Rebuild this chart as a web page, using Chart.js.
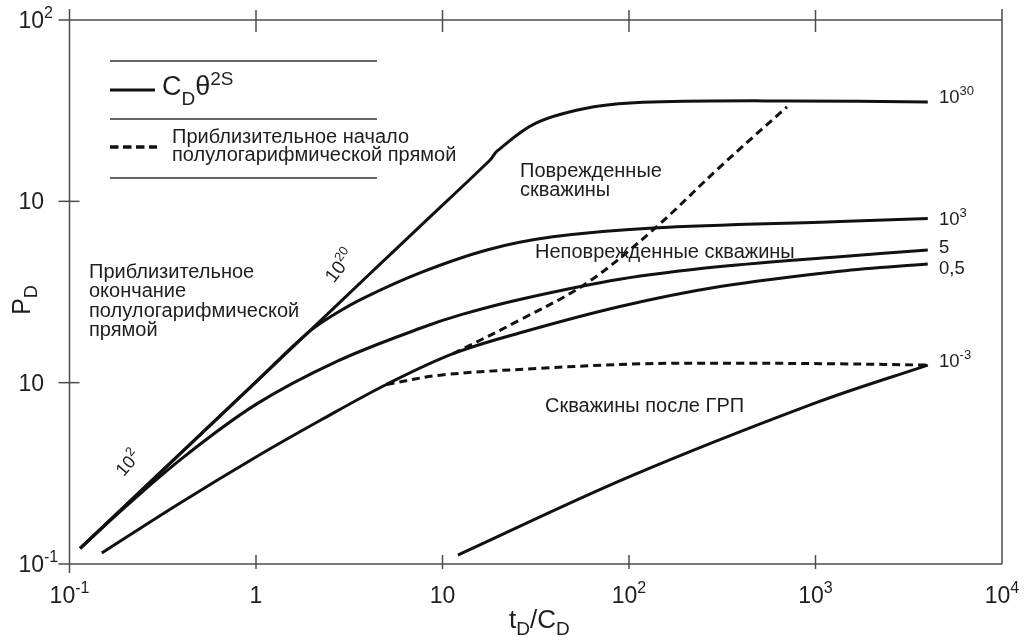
<!DOCTYPE html>
<html>
<head>
<meta charset="utf-8">
<script src="https://cdn.jsdelivr.net/npm/chart.js@4.4.1/dist/chart.umd.min.js"></script>
<style>
  html, body { margin: 0; padding: 0; background: #fff; }
</style>
</head>
<body>
<canvas id="typeCurves" width="1027" height="641"></canvas>
<script>
// t_D/C_D values and P_D for each C_D*e^(2S) curve
const cd30X = [0.114, 0.180, 1.0, 1.88, 4.0, 7.57, 18.0, 19.6, 31.7, 64.9, 133, 713, 4000];
const cd30Y = [0.122, 0.190, 1.01, 1.87, 3.91, 7.28, 16.9, 18.9, 27.0, 33.2, 35.3, 35.8, 35.3];

const cd1e3X = [0.114, 0.180, 1.0, 1.88, 2.65, 3.75, 7.57, 17.3, 39.1, 134.5, 1352, 4000];
const cd1e3Y = [0.122, 0.190, 1.01, 1.87, 2.39, 2.92, 4.03, 5.39, 6.37, 7.13, 7.74, 8.05];

const cd5X = [0.114, 0.180, 0.398, 1.0, 2.75, 7.59, 12.6, 26.3, 89.1, 309, 1349, 4000];
const cd5Y = [0.122, 0.188, 0.380, 0.759, 1.318, 1.995, 2.371, 2.884, 3.715, 4.365, 4.955, 5.395];

const cd05X = [0.149, 0.398, 1.0, 2.24, 5.0, 11.4, 26.1, 89.5, 308, 1352, 4000];
const cd05Y = [0.115, 0.219, 0.389, 0.624, 0.977, 1.445, 1.884, 2.630, 3.388, 4.121, 4.519];

const cd1em3X = [12.1, 100, 1000, 4000];
const cd1em3Y = [0.112, 0.302, 0.773, 1.25];

// approximate start of the semilog straight line (dashed)
const semilogX = [11.4, 26.1, 59.6, 134.5, 308, 703];
const semilogY = [1.445, 2.22, 3.55, 6.95, 15.5, 33.2];

const fracX = [5.0, 9.7, 33.3, 114.6, 393, 1352, 4000];
const fracY = [0.977, 1.10, 1.20, 1.27, 1.28, 1.27, 1.25];

// axis ticks: [mantissa, exponent]
const xTicks = [0.1, 1, 10, 100, 1000, 10000];
const xTickLabels = [['10', '-1'], ['1', ''], ['10', ''], ['10', '2'], ['10', '3'], ['10', '4']];
const yTicks = [0.1, 1, 10, 100];
const yTickLabels = [['10', '-1'], ['10', ''], ['10', ''], ['10', '2']];

// curve end labels
const curveLabels = [['10', '30'], ['10', '3'], ['5', ''], ['0,5', ''], ['10', '-3']];

const FONT = '"Liberation Sans", Arial, Helvetica, sans-serif';
const INK = '#1d1d24';
const AXIS = '#4d4d4d';

function pairs(xs, ys) {
    return xs.map((x, i) => ({ x: x, y: ys[i] }));
}

function curve(xs, ys, dashed) {
    return {
        data: pairs(xs, ys),
        borderColor: '#111',
        borderWidth: 3,
        borderDash: dashed ? [8, 5] : [],
        pointRadius: 0,
        tension: 0.35,
        fill: false
    };
}

// text made of runs: [text, size, dy]
function drawRich(ctx, x, y, parts, align) {
    let total = 0;
    const widths = parts.map(p => {
        ctx.font = p[1] + 'px ' + FONT;
        const w = ctx.measureText(p[0]).width;
        total += w;
        return w;
    });
    let x0 = x;
    if (align === 'center') x0 = x - total / 2;
    else if (align === 'right') x0 = x - total;
    else if (align === 'baseRight') x0 = x - widths[0];
    ctx.textAlign = 'left';
    ctx.textBaseline = 'alphabetic';
    parts.forEach((p, i) => {
        ctx.font = p[1] + 'px ' + FONT;
        ctx.fillText(p[0], x0, y + (p[2] || 0));
        x0 += widths[i];
    });
}

function power(base, exp, size) {
    const parts = [[base, size, 0]];
    if (exp) parts.push([exp, Math.round(size * 0.7), -size * 0.42]);
    return parts;
}

function line(ctx, x1, y1, x2, y2) {
    ctx.beginPath();
    ctx.moveTo(x1, y1);
    ctx.lineTo(x2, y2);
    ctx.stroke();
}

const framePlugin = {
    id: 'frame',
    afterDraw(chart) {
        const ctx = chart.ctx;
        const a = chart.chartArea;
        const xs = chart.scales.x;
        const ys = chart.scales.y;
        ctx.save();

        // box with overshooting corners
        ctx.strokeStyle = AXIS;
        ctx.lineWidth = 1.5;
        line(ctx, a.left - 11, a.top, a.right, a.top);
        line(ctx, a.left - 11, a.bottom, a.right, a.bottom);
        line(ctx, a.left, a.top - 11, a.left, a.bottom + 9);
        line(ctx, a.right, a.top - 11, a.right, a.bottom);

        xTicks.slice(1, -1).forEach(v => {
            const px = xs.getPixelForValue(v);
            line(ctx, px, a.bottom - 9, px, a.bottom + 5);
            line(ctx, px, a.top - 10, px, a.top + 12);
        });
        yTicks.slice(1, -1).forEach(v => {
            const py = ys.getPixelForValue(v);
            line(ctx, a.left - 11, py, a.left + 10, py);
        });

        // tick labels
        ctx.fillStyle = INK;
        xTicks.forEach((v, i) => {
            const px = xs.getPixelForValue(v);
            drawRich(ctx, px, a.bottom + 39, power(xTickLabels[i][0], xTickLabels[i][1], 23), 'center');
        });
        yTicks.forEach((v, i) => {
            const py = ys.getPixelForValue(v);
            drawRich(ctx, 44, py + 8, power(yTickLabels[i][0], yTickLabels[i][1], 23), 'baseRight');
        });

        // axis titles
        drawRich(ctx, 509, 628, [['t', 26, 0], ['D', 19, 7], ['/C', 26, 0], ['D', 19, 7]], 'left');
        ctx.save();
        ctx.translate(30, 300);
        ctx.rotate(-Math.PI / 2);
        drawRich(ctx, 0, 0, [['P', 25, 0], ['D', 18, 7]], 'center');
        ctx.restore();

        // curve end labels
        const endY = [103, 225, 253, 274, 367];
        curveLabels.forEach((l, i) => {
            drawRich(ctx, 939, endY[i], power(l[0], l[1], 18.5), 'left');
        });

        // labels along the early-time line
        [[['10', '20'], 340, 266, -53, 19], [['10', '2'], 128, 463, -50, 18]].forEach(r => {
            ctx.save();
            ctx.translate(r[1], r[2]);
            ctx.rotate(r[3] * Math.PI / 180);
            drawRich(ctx, 0, 6, power(r[0][0], r[0][1], r[4]), 'center');
            ctx.restore();
        });

        // region notes
        const notes = [
            ['Приблизительное', 89, 278],
            ['окончание', 89, 297],
            ['полулогарифмической', 89, 317],
            ['прямой', 89, 336],
            ['Поврежденные', 520, 177],
            ['скважины', 520, 196],
            ['Неповрежденные скважины', 535, 258],
            ['Скважины после ГРП', 545, 412]
        ];
        notes.forEach(n => drawRich(ctx, n[1], n[2], [[n[0], 20, 0]], 'left'));

        // legend block
        ctx.strokeStyle = '#333';
        ctx.lineWidth = 1.3;
        [61, 119, 178].forEach(y => line(ctx, 110, y, 377, y));
        ctx.strokeStyle = '#111';
        ctx.lineWidth = 3;
        line(ctx, 110, 90, 155, 90);
        ctx.lineWidth = 3.5;
        ctx.setLineDash([8.5, 4.5]);
        line(ctx, 110, 147, 157, 147);
        ctx.setLineDash([]);
        drawRich(ctx, 162, 95, [['C', 27, 0], ['D', 19, 10], ['θ', 27, 0], ['2S', 19, -10]], 'left');
        drawRich(ctx, 172, 143, [['Приблизительное начало', 20, 0]], 'left');
        drawRich(ctx, 172, 161, [['полулогарифмической прямой', 20, 0]], 'left');

        ctx.restore();
    }
};

new Chart(document.getElementById('typeCurves').getContext('2d'), {
    type: 'line',
    data: {
        datasets: [
            curve(cd30X, cd30Y, false),
            curve(cd1e3X, cd1e3Y, false),
            curve(cd5X, cd5Y, false),
            curve(cd05X, cd05Y, false),
            curve(cd1em3X, cd1em3Y, false),
            curve(semilogX, semilogY, true),
            curve(fracX, fracY, true)
        ]
    },
    options: {
        responsive: false,
        animation: false,
        devicePixelRatio: 1,
        layout: { padding: { left: 69.5, right: 25, top: 20, bottom: 77 } },
        plugins: { legend: { display: false }, tooltip: { enabled: false } },
        scales: {
            x: { type: 'logarithmic', min: 0.1, max: 10000, display: false },
            y: { type: 'logarithmic', min: 0.1, max: 100, display: false }
        }
    },
    plugins: [framePlugin]
});
</script>
</body>
</html>
